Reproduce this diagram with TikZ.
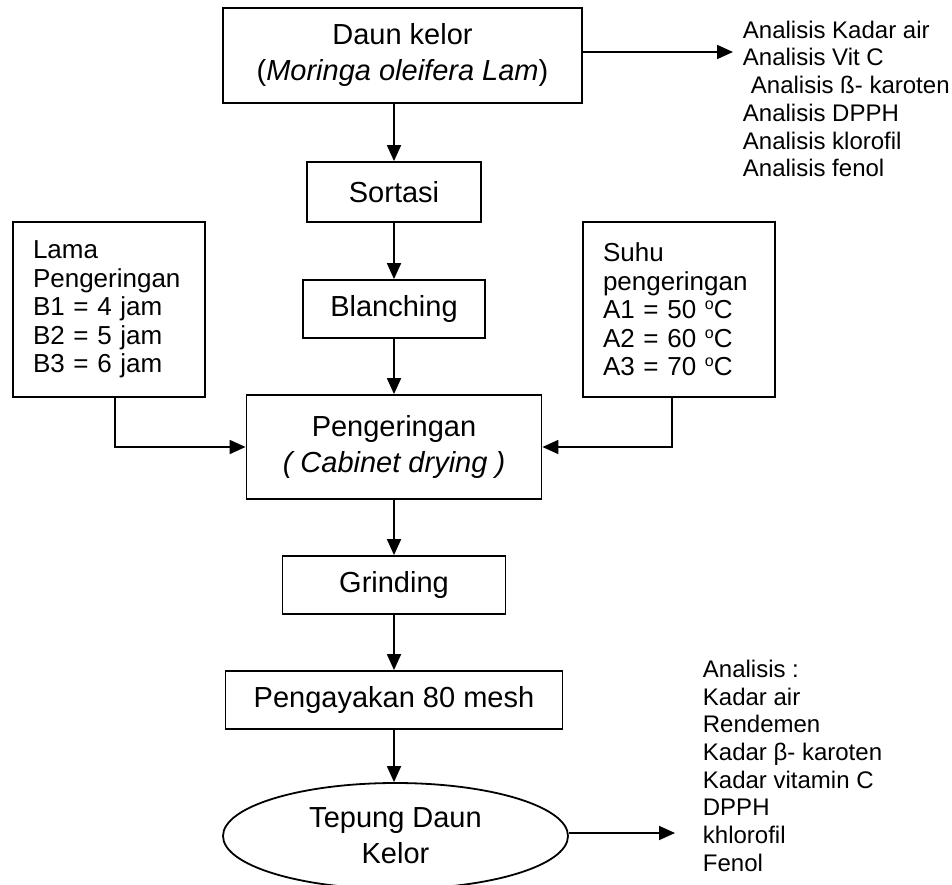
\documentclass[tikz,border=0pt]{standalone}
\usepackage{fontspec}
\setmainfont{Liberation Sans}
\usetikzlibrary{arrows.meta,shapes.geometric}
\newcommand{\dego}{\raisebox{9pt}{\fontsize{16}{16}\selectfont o}}
\begin{document}
\begin{tikzpicture}[x=1pt,y=-1pt,line width=1.8pt,
  mainbox/.style={draw,rectangle,inner sep=0pt,align=center,font=\fontsize{29}{36}\selectfont},
  sidebox/.style={draw,rectangle,inner xsep=20pt,inner ysep=0pt,text width=152pt,minimum width=192pt,minimum height=175pt,align=left,font=\fontsize{26}{28.5}\selectfont},
  listtext/.style={inner sep=0pt,anchor=north west,align=left,font=\fontsize{24}{27.7}\selectfont},
  arr/.style={-{Triangle[length=16pt,width=14pt]}}]
\useasboundingbox (0,0) rectangle (952,885);

\node[mainbox,minimum width=359pt,minimum height=95pt] (daun) at (402.5,55.5) {Daun kelor\\(\textit{Moringa oleifera Lam})};
\node[mainbox,minimum width=174pt,minimum height=60pt] (sortasi) at (394,192) {Sortasi};
\node[mainbox,minimum width=182pt,minimum height=58pt] (blanch) at (394,309) {Blanching};
\node[mainbox,minimum width=295pt,minimum height=104pt] (peng) at (394,447) {Pengeringan\\\textit{( Cabinet drying )}};
\node[mainbox,minimum width=223pt,minimum height=58pt] (grind) at (394,585) {Grinding};
\node[mainbox,minimum width=337pt,minimum height=58pt] (ayak) at (394,700) {Pengayakan 80 mesh};
\node[draw,ellipse,inner sep=0pt,minimum width=345pt,minimum height=106pt,align=center,font=\fontsize{29}{36}\selectfont] (tepung) at (395.5,836) {Tepung Daun\\Kelor};

\node[sidebox] (lama) at (109,309.5) {Lama\\Pengeringan\\B1 = 4 jam\\B2 = 5 jam\\B3 = 6 jam};
\node[sidebox] (suhu) at (679,309.5) {Suhu\\pengeringan\\A1 = 50 \dego C\\A2 = 60 \dego C\\A3 = 70 \dego C};

\node[listtext] (list1) at (742,20) {Analisis Kadar air\\Analisis Vit C\\\hspace*{8pt}Analisis ß- karoten\\Analisis DPPH\\Analisis klorofil\\Analisis fenol};
\node[listtext] (list2) at (702,659) {Analisis :\\Kadar air\\Rendemen\\Kadar β- karoten\\Kadar vitamin C\\DPPH\\khlorofil\\Fenol};

\coordinate (end1) at (733,52);
\coordinate (end2) at (675,833);

\draw[arr] (daun.east |- end1) -- (end1);
\draw[arr] (tepung.east |- end2) -- (end2);

\draw[arr] (sortasi.north |- daun.south) -- (sortasi.north);
\draw[arr] (sortasi.south) -- (blanch.north);
\draw[arr] (blanch.south) -- (peng.north);
\draw[arr] (peng.south) -- (grind.north);
\draw[arr] (grind.south) -- (ayak.north);
\draw[arr] (ayak.south) -- (ayak.south |- tepung.north);

\draw[arr] ([xshift=6pt]lama.south) |- (peng.west);
\draw[arr] ([xshift=-7pt]suhu.south) |- (peng.east);
\end{tikzpicture}
\end{document}
